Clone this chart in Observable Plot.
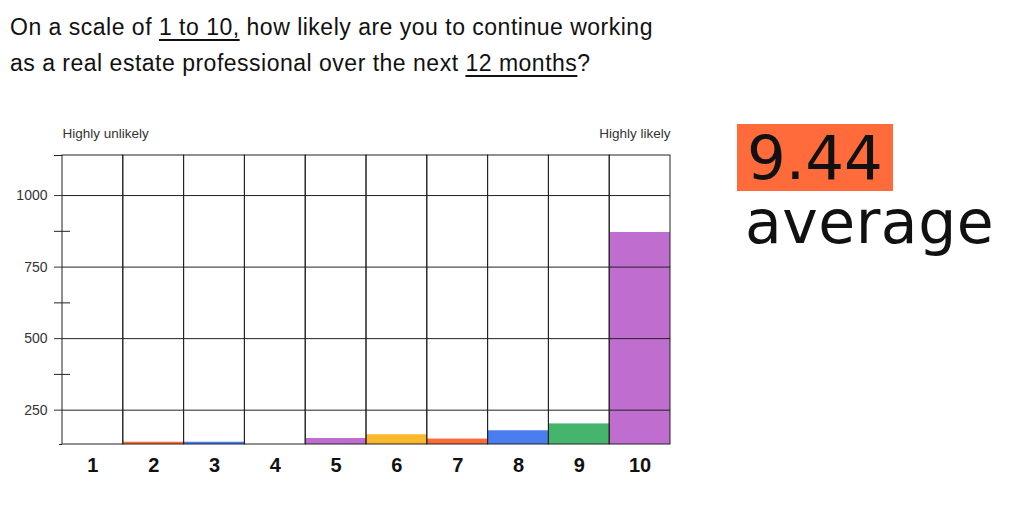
<!DOCTYPE html>
<html>
<head>
<meta charset="utf-8">
<script src="https://cdn.jsdelivr.net/npm/d3@7"></script>
<script src="https://cdn.jsdelivr.net/npm/@observablehq/plot@0.6"></script>
<style>
  html, body { margin: 0; padding: 0; background: #fff; }
  #page { position: relative; width: 1024px; height: 511px; overflow: hidden; font-family: "Liberation Sans", Arial, sans-serif; }
  #title { position: absolute; left: 10px; top: 9px; font-size: 23px; letter-spacing: 0.5px; line-height: 36px; color: #111; white-space: nowrap; }
  #title u { text-decoration: underline; text-decoration-thickness: 2px; text-underline-offset: 4px; }
  #chart { position: absolute; left: 0; top: 115px; }
  #avg { position: absolute; left: 737px; top: 124px; width: 156px; height: 67px; background: #ff6b3a; }
  #avg span { position: absolute; left: 10px; top: 0; font-family: "DejaVu Sans"; font-size: 61px; line-height: 67px; color: #111; }
  #avgLabel { position: absolute; left: 745px; top: 187px; font-family: "DejaVu Sans"; font-size: 60px; letter-spacing: 0.5px; line-height: 70px; color: #111; }
  #chart g[aria-label="x-axis tick label"] text { font-weight: bold; font-size: 20px; }
</style>
</head>
<body>
<div id="page">
  <div id="title">On a scale of <u>1 to 10,</u> how likely are you to continue working<br>as a real estate professional over the next <u>12 months</u>?</div>
  <div id="chart"></div>
  <div id="avg"><span id="avgValue"></span></div>
  <div id="avgLabel">average</div>
</div>
<script>
const categories = ["1", "2", "3", "4", "5", "6", "7", "8", "9", "10"];
const counts = [0, 138, 138, 0, 151, 164, 149, 178, 202, 871];
const barColors = ["#fbb82c", "#ff6b35", "#4a7df0", "#45b56e", "#bf6ecf", "#fbb82c", "#ff6b35", "#4a7df0", "#45b56e", "#bf6ecf"];
const majorTicks = [250, 500, 750, 1000];
const minorTicks = [375, 625, 875];
const yDomain = [130, 1140];
const leftLabel = "Highly unlikely";
const rightLabel = "Highly likely";
const averageValue = "9.44";

document.getElementById("avgValue").textContent = averageValue;

const data = categories.map((c, i) => ({score: c, count: counts[i], color: barColors[i]}));

const W = 700, H = 365, mL = 62, mR = 30, mT = 40, mB = 36;
const bw = (W - mL - mR) / categories.length;

const chart = Plot.plot({
  width: W,
  height: H,
  marginLeft: mL,
  marginRight: mR,
  marginTop: mT,
  marginBottom: mB,
  style: {fontFamily: "Liberation Sans, Arial, sans-serif", fontSize: "13px", color: "#222", background: "white", overflow: "visible"},
  x: {type: "band", domain: categories, padding: 0, round: false, axis: null, label: null},
  y: {domain: yDomain, axis: null, label: null},
  marks: [
    Plot.barY(data, {x: "score", y: "count", fill: d => d.color, clip: true}),
    Plot.ruleY(majorTicks, {y: d => d, stroke: "#222", strokeWidth: 1}),
    Plot.barY(categories, {x: d => d, y1: () => yDomain[0], y2: () => yDomain[1], fill: "none", stroke: "#222", strokeWidth: 1}),
    Plot.axisY({ticks: majorTicks, tickSize: 8, tickPadding: 7, fontSize: 14, color: "#333", label: null, tickFormat: d3.format("d")}),
    Plot.axisY({ticks: minorTicks, tickSize: 8, tickFormat: () => "", label: null}),
    Plot.axisY({ticks: [yDomain[1]], tickSize: 8, tickFormat: () => "", label: null}),
    Plot.axisY({ticks: [yDomain[0]], tickSize: 3, tickFormat: () => "", label: null}),
    Plot.tickY(minorTicks, {y: d => d, x: () => categories[0], stroke: "#222", insetRight: bw - 8}),
    Plot.axisX({tickSize: 0, tickPadding: 13, fontSize: 20, fontWeight: "bold", color: "#111", label: null}),
    Plot.text([leftLabel], {frameAnchor: "top-left", textAnchor: "start", lineAnchor: "bottom", dy: -18, fontSize: 13.5, fill: "#333"}),
    Plot.text([rightLabel], {frameAnchor: "top-right", textAnchor: "end", lineAnchor: "bottom", dy: -18, fontSize: 13.5, fill: "#333"})
  ]
});
document.getElementById("chart").appendChild(chart);
</script>
</body>
</html>
